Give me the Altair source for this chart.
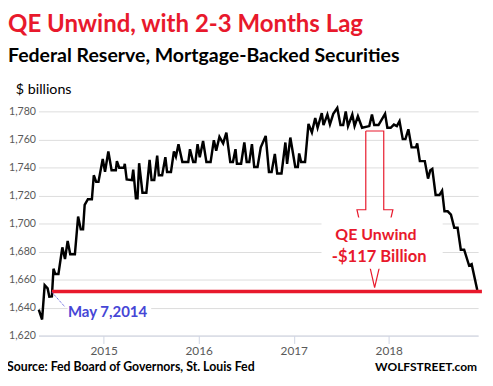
import altair as alt
import pandas as pd

# ---- data (decimal year, $ billions) ----
t_vals = [2014.317, 2014.352, 2014.379, 2014.410, 2014.428, 2014.455, 2014.472, 2014.490, 2014.524, 2014.565,
          2014.593, 2014.621, 2014.648, 2014.697, 2014.731, 2014.759, 2014.783, 2014.800, 2014.834, 2014.876,
          2014.896, 2014.921, 2014.945, 2014.990, 2015.014, 2015.049, 2015.083, 2015.128, 2015.139, 2015.163,
          2015.214, 2015.222, 2015.242, 2015.297, 2015.311, 2015.339, 2015.356, 2015.373, 2015.408, 2015.449,
          2015.483, 2015.504, 2015.532, 2015.563, 2015.580, 2015.615, 2015.649, 2015.667, 2015.708, 2015.739,
          2015.760, 2015.787, 2015.828, 2015.890, 2015.908, 2015.942, 2015.965, 2015.988, 2016.011, 2016.046,
          2016.081, 2016.125, 2016.159, 2016.184, 2016.218, 2016.257, 2016.291, 2016.332, 2016.360, 2016.387,
          2016.402, 2016.446, 2016.480, 2016.505, 2016.532, 2016.560, 2016.584, 2016.619, 2016.653, 2016.705,
          2016.739, 2016.767, 2016.801, 2016.826, 2016.871, 2016.912, 2016.930, 2016.964, 2017.016, 2017.043,
          2017.057, 2017.078, 2017.119, 2017.155, 2017.191, 2017.226, 2017.251, 2017.295, 2017.313, 2017.354,
          2017.381, 2017.416, 2017.458, 2017.492, 2017.520, 2017.547, 2017.571, 2017.616, 2017.640, 2017.675,
          2017.719, 2017.795, 2017.823, 2017.847, 2017.892, 2017.961, 2017.985, 2018.020, 2018.054, 2018.085,
          2018.113, 2018.147, 2018.175, 2018.206, 2018.240, 2018.286, 2018.299, 2018.327, 2018.379, 2018.413,
          2018.437, 2018.458, 2018.493, 2018.534, 2018.561, 2018.586, 2018.620, 2018.654, 2018.689, 2018.724,
          2018.758, 2018.793, 2018.845, 2018.872, 2018.931]
mbs_vals = [1638.5, 1631.5, 1656.0, 1653.7, 1647.8, 1648.0, 1667.7, 1664.0, 1664.0, 1683.0,
            1674.7, 1687.6, 1678.0, 1678.0, 1705.0, 1695.8, 1695.8, 1713.3, 1717.3, 1717.3,
            1734.4, 1729.7, 1729.7, 1746.0, 1736.9, 1751.4, 1738.0, 1738.0, 1744.5, 1739.8,
            1739.8, 1742.6, 1731.4, 1730.9, 1738.4, 1718.0, 1718.0, 1743.0, 1722.0, 1722.0,
            1745.4, 1731.0, 1731.0, 1748.4, 1734.4, 1734.4, 1747.3, 1736.8, 1736.8, 1751.5,
            1747.7, 1756.6, 1743.8, 1743.8, 1753.0, 1743.8, 1743.8, 1756.6, 1747.3, 1758.9,
            1743.8, 1743.8, 1759.4, 1752.0, 1761.8, 1757.1, 1764.8, 1743.8, 1743.8, 1753.0,
            1742.6, 1742.6, 1757.8, 1743.8, 1743.8, 1756.6, 1740.3, 1740.3, 1754.3, 1762.5,
            1736.8, 1736.8, 1749.6, 1735.6, 1735.6, 1757.8, 1742.6, 1761.3, 1740.3, 1740.3,
            1750.0, 1743.8, 1743.8, 1771.0, 1765.0, 1775.3, 1768.3, 1778.8, 1770.2, 1777.7,
            1770.7, 1778.2, 1782.4, 1770.2, 1770.2, 1780.0, 1769.5, 1777.7, 1769.5, 1776.5,
            1768.3, 1769.5, 1777.7, 1770.2, 1770.2, 1778.2, 1768.3, 1768.3, 1770.6, 1769.5,
            1773.0, 1760.2, 1760.2, 1767.2, 1754.3, 1754.3, 1757.1, 1744.5, 1744.5, 1732.0,
            1738.0, 1739.0, 1720.4, 1720.4, 1723.4, 1708.7, 1708.7, 1706.3, 1697.0, 1697.0,
            1681.3, 1681.3, 1670.0, 1671.0, 1652.5]

year_ticks = [2015, 2016, 2017, 2018]
y_ticks = [1620, 1640, 1660, 1680, 1700, 1720, 1740, 1760, 1780]

# reference level line (May 7, 2014 level)
level_t = [2014.455, 2018.98]
level_v = [1651.5, 1651.5]
# leader from May 7 point to label
leader_t = [2014.455, 2014.593]
leader_v = [1651.0, 1640.4]
# hollow arrow outline
arrow_t = [2017.758, 2017.947, 2017.947, 2018.043, 2017.851, 2017.665, 2017.758, 2017.758]
arrow_v = [1766.0, 1766.0, 1709.8, 1709.8, 1654.2, 1709.8, 1709.8, 1766.0]

title_txt = "QE Unwind, with 2-3 Months Lag"
subtitle_txt = "Federal Reserve, Mortgage-Backed Securities"
unit_txt = "$ billions"
source_txt = "Source: Fed Board of Governors, St. Louis Fed"
brand_txt = "WOLFSTREET.com"

RED = "#e8192c"
BLUE = "#4646d6"
FONT = "Lato"

X_DOM = [2014.314, 2018.94]
Y_DOM = [1620, 1780]

xs = alt.Scale(domain=X_DOM, nice=False, zero=False)
ys = alt.Scale(domain=Y_DOM, nice=False, zero=False)

df = pd.DataFrame({"t": t_vals, "v": mbs_vals})

x_axis = alt.Axis(values=year_ticks, format="d", grid=False, domainColor="#cfd5e3",
                  tickColor="#cfd5e3", tickSize=8, labelPadding=2, labelFont=FONT,
                  labelFontSize=12, labelColor="#595959", title=None)
y_axis = alt.Axis(values=y_ticks, format=",.0f", grid=True, gridColor="#dcdcdc", domain=False,
                  ticks=False, labelFont=FONT, labelFontSize=10.8, labelColor="#595959",
                  labelPadding=3, labelOverlap=False, title=None)

X = lambda: alt.X("t:Q", scale=xs, axis=x_axis)
Y = lambda: alt.Y("v:Q", scale=ys, axis=y_axis)

main = alt.Chart(df).mark_line(color="black", strokeWidth=2.5, strokeJoin="miter").encode(x=X(), y=Y())

level = alt.Chart(pd.DataFrame({"t": level_t, "v": level_v})).mark_line(
    color=RED, strokeWidth=3.5).encode(x=X(), y=Y())

leader = alt.Chart(pd.DataFrame({"t": leader_t, "v": leader_v})).mark_line(
    color=BLUE, strokeWidth=1, strokeDash=[1, 1]).encode(x=X(), y=Y())

arrow = alt.Chart(pd.DataFrame({"t": arrow_t, "v": arrow_v, "o": list(range(len(arrow_t)))})).mark_line(
    color=RED, strokeWidth=1.2).encode(x=X(), y=Y(), order="o:Q")

box = alt.Chart(pd.DataFrame({"t": [2017.292], "t2": [2018.567], "v": [1704.2], "v2": [1667.7]})).mark_rect(
    color="white").encode(x=X(), x2="t2", y=Y(), y2="v2")

may_box = alt.Chart(pd.DataFrame({"t": [2014.62], "t2": [2015.5], "v": [1644.0], "v2": [1632.0]})).mark_rect(
    color="white").encode(x=X(), x2="t2", y=Y(), y2="v2")

def dtext(label, t, v, color, size, align="left", weight="bold"):
    return alt.Chart(pd.DataFrame({"t": [t], "v": [v], "s": [label]})).mark_text(
        color=color, fontSize=size, font=FONT, fontWeight=weight, align=align, baseline="alphabetic").encode(
        x=X(), y=Y(), text="s:N")

def ptext(label, x, y, color, size, align="left", weight="bold"):
    return alt.Chart(pd.DataFrame({"s": [label]})).mark_text(
        color=color, fontSize=size, font=FONT, fontWeight=weight, align=align, baseline="alphabetic").encode(
        x=alt.value(x), y=alt.value(y), text="s:N")

may_lbl = dtext("May 7,2014", 2014.624, 1633.2, BLUE, 15.2)
qe1 = dtext("QE Unwind", 2017.864, 1688.4, RED, 16.2, align="center")
qe2 = dtext("-$117 Billion", 2017.899, 1672.6, RED, 16.8, align="center")

title = ptext(title_txt, -31, -81, RED, 24.4)
subtitle = ptext(subtitle_txt, -31, -50, "black", 19.8)
unit = ptext(unit_txt, -23, -18, "black", 14.5, weight="normal")
source = ptext(source_txt, -32, 264, "black", 12.5)
brand = ptext(brand_txt, 446, 264, "black", 12.2, align="right")

chart = alt.layer(
    main, may_box, arrow, box, level, leader, may_lbl, qe1, qe2,
    title, subtitle, unit, source, brand,
).properties(
    width=447, height=228,
    autosize=alt.AutoSizeParams(type="none"),
    padding={"left": 31, "top": 102, "right": 7, "bottom": 40},
).configure_view(stroke=None)

chart.save("out.html", embed_options={"renderer": "svg", "actions": False})
